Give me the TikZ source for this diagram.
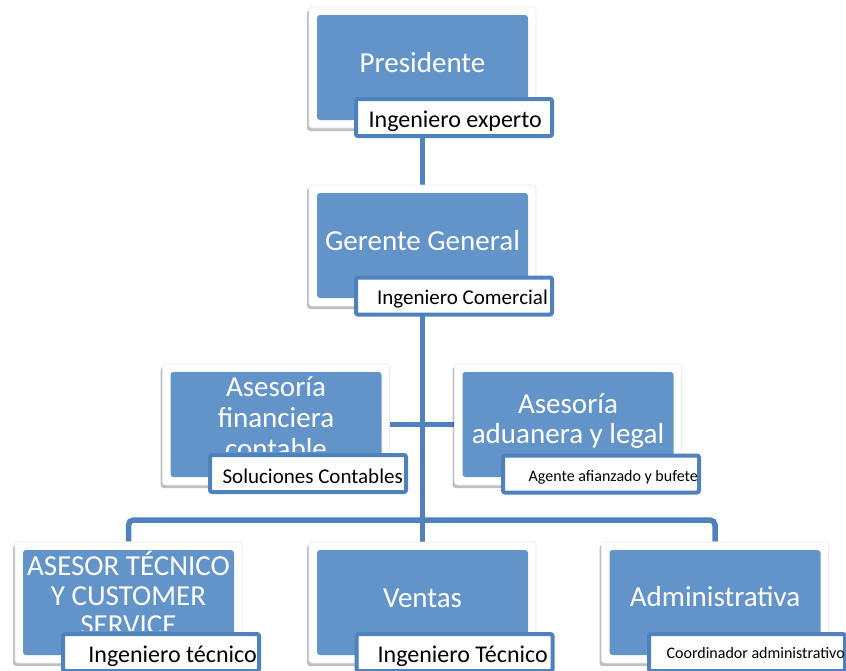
\documentclass[tikz,border=0pt]{standalone}
\usepackage{fontspec}
\setmainfont{Carlito}
\usetikzlibrary{shadows}
\definecolor{boxblue}{RGB}{99,148,201}
\definecolor{lineblue}{RGB}{79,129,189}
\pgfdeclarelayer{bg}
\pgfsetlayers{bg,main}
\begin{document}
\begin{tikzpicture}[x=1pt,y=-1pt,
  frame/.style={rectangle, fill=white, draw=black!8, line width=0.6pt, rounded corners=3pt,
    minimum width=227pt, minimum height=121pt, inner sep=0pt,
    drop shadow={shadow xshift=-2pt, shadow yshift=-3pt, opacity=0.25, fill=black},
    path picture={\fill[boxblue] ([shift={(8pt,-8pt)}]path picture bounding box.north west) rectangle ([shift={(-8pt,8pt)}]path picture bounding box.south east);}},
  maintext/.style={text=white, font=\fontsize{29}{29.5}\selectfont, inner sep=0pt, anchor=base, align=center},
  labelbox/.style={rectangle, fill=white, draw=lineblue, line width=4pt, rounded corners=2pt,
    minimum width=196pt, minimum height=37pt, inner sep=0pt},
  labtext/.style={inner sep=0pt, anchor=base east, text=black},
  conn/.style={draw=lineblue, line width=5.5pt}]
\useasboundingbox (0,0) rectangle (846,670);
\clip (0,0) rectangle (846,670);

% frames
\node[frame] (p) at (422.5,67.5) {};
\node[frame] (g) at (422.5,245.5) {};
\node[frame] (af) at (276,424.5) {};
\node[frame] (aa) at (568,424.5) {};
\node[frame] (b1) at (128.5,602.5) {};
\node[frame] (v) at (422.5,602.5) {};
\node[frame] (ad) at (715,602.5) {};
\coordinate (bar) at (422.5,520);

% connectors
\begin{pgfonlayer}{bg}
\draw[conn] (p.south) -- (g.north);
\draw[conn] (g.south) -- (v.north);
\draw[conn] (af.east) -- (aa.west);
\draw[conn, rounded corners=5pt] (b1.north) |- (bar) -| (ad.north);
\end{pgfonlayer}

% main texts (anchor base = baseline of the last line)
\node[maintext] (pt) at (422.5,72) {Presidente};
\node[maintext] (gt) at (422.5,250) {Gerente General};
\begin{scope}
\clip (160,360) rectangle (395,451.5);
\node[maintext, font=\fontsize{29}{31}\selectfont] (aft) at (276,458) {Asesoría\\financiera\\contable};
\end{scope}
\node[maintext] (aat) at (568,443) {Asesoría\\aduanera y legal};
\begin{scope}
\clip (10,540) rectangle (245,630);
\node[maintext] (b1t) at (128.5,634.5) {ASESOR TÉCNICO\\Y CUSTOMER\\SERVICE};
\end{scope}
\node[maintext] (vt) at (422.5,607) {Ventas};
\node[maintext] (adt) at (715,606) {Administrativa};

% label boxes
\node[labelbox] (pl) at (454,117.5) {};
\node[labelbox] (gl) at (454,296) {};
\node[labelbox] (afl) at (308,473.5) {};
\node[labelbox] (aal) at (601,474) {};
\node[labelbox] (b1l) at (161,652.5) {};
\node[labelbox] (vl) at (454.5,652.5) {};
\node[labelbox] (adl) at (747,652.5) {};

% label texts
\node[labtext, font=\fontsize{24}{28}\selectfont] (plt) at (542,127) {Ingeniero experto};
\node[labtext, font=\fontsize{21}{25}\selectfont] (glt) at (548,304) {Ingeniero Comercial};
\node[labtext, font=\fontsize{21}{25}\selectfont] (aflt) at (403,483) {Soluciones Contables};
\node[labtext, font=\fontsize{16}{19}\selectfont] (aalt) at (698,481) {Agente afianzado y bufete};
\node[labtext, font=\fontsize{24}{28}\selectfont] (b1lt) at (257,662) {Ingeniero técnico};
\node[labtext, font=\fontsize{24}{28}\selectfont] (vlt) at (548,662) {Ingeniero Técnico};
\node[labtext, font=\fontsize{16}{19}\selectfont] (adlt) at (845,658) {Coordinador administrativo};
\end{tikzpicture}
\end{document}
